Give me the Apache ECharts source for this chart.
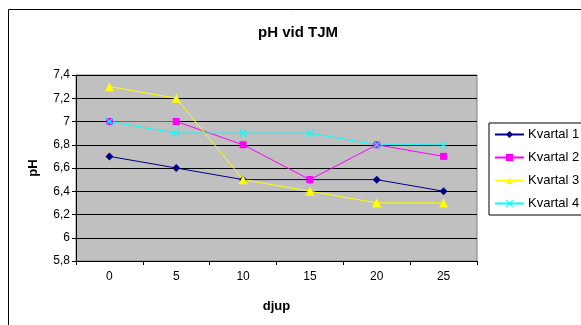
<!DOCTYPE html>
<html lang="sv">
<head>
<meta charset="UTF-8">
<title>pH vid TJM</title>
<script src="https://cdn.jsdelivr.net/npm/echarts@6/dist/echarts.min.js"></script>
<style>
  body { margin: 0; background: #fff; }
  #chart { width: 581px; height: 325px; }
</style>
</head>
<body>
<div id="chart"></div>
<script>
// djup (x categories)
var djup = ['0', '5', '10', '15', '20', '25'];
var kvartal1 = [6.7, 6.6, 6.5, 6.5, 6.5, 6.4];
var kvartal2 = [7.0, 7.0, 6.8, 6.5, 6.8, 6.7];
var kvartal3 = [7.3, 7.2, 6.5, 6.4, 6.3, 6.3];
var kvartal4 = [7.0, 6.9, 6.9, 6.9, 6.8, 6.8];
var seriesNames = ['Kvartal 1', 'Kvartal 2', 'Kvartal 3', 'Kvartal 4'];

var crossPath = 'path://M0,1L1,0L5,4L9,0L10,1L6,5L10,9L9,10L5,6L1,10L0,9L4,5Z';

function lineSeries(name, data, color, symbol, size) {
  return {
    name: name,
    type: 'line',
    data: data,
    symbol: symbol,
    symbolSize: size,
    showAllSymbol: true,
    lineStyle: { color: color, width: 1 },
    itemStyle: { color: color },
    emphasis: { disabled: true },
    animation: false
  };
}

var chart = echarts.init(document.getElementById('chart'));
chart.setOption({
  backgroundColor: '#fff',
  textStyle: { fontFamily: 'Liberation Sans, Arial, sans-serif' },
  graphic: [{
    type: 'rect',
    shape: { x: 8.5, y: 9.5, width: 600, height: 340 },
    style: { fill: null, stroke: '#000', lineWidth: 1 },
    z: -1
  }],
  title: {
    text: 'pH vid TJM',
    left: 258,
    top: 25,
    padding: 0,
    textStyle: { fontSize: 15, fontWeight: 'bold', color: '#000' }
  },
  legend: {
    data: seriesNames,
    orient: 'vertical',
    left: 489,
    top: 123,
    backgroundColor: '#fff',
    borderColor: '#000',
    borderWidth: 1,
    padding: [4, 10, 4, 5],
    itemWidth: 29,
    itemHeight: 9,
    itemGap: 8,
    textStyle: { fontSize: 13, color: '#000', lineHeight: 15, padding: [0, 0, 0, -1] }
  },
  grid: {
    left: 76, right: 104, top: 75, bottom: 64,
    show: true,
    backgroundColor: '#c0c0c0',
    borderColor: '#808080',
    borderWidth: 1
  },
  xAxis: {
    type: 'category',
    data: djup,
    boundaryGap: true,
    name: 'djup',
    nameLocation: 'middle',
    nameGap: 39,
    nameTextStyle: { fontSize: 13, fontWeight: 'bold', color: '#000' },
    axisLine: { lineStyle: { color: '#000' } },
    axisTick: { show: true, length: 4, inside: false, lineStyle: { color: '#000' } },
    axisLabel: { fontSize: 12, color: '#000', margin: 10 },
    splitLine: { show: false }
  },
  yAxis: {
    type: 'value',
    min: 5.8,
    max: 7.4,
    interval: 0.2,
    name: 'pH',
    nameLocation: 'middle',
    nameGap: 36,
    nameTextStyle: { fontSize: 13, fontWeight: 'bold', color: '#000' },
    axisLine: { show: true, lineStyle: { color: '#000' } },
    axisTick: { show: true, length: 4, lineStyle: { color: '#000' } },
    axisLabel: {
      fontSize: 12, color: '#000', margin: 6,
      formatter: function (v) { return String(Math.round(v * 10) / 10).replace('.', ','); }
    },
    splitLine: { show: true, lineStyle: { color: '#000', width: 1 } }
  },
  series: [
    lineSeries(seriesNames[0], kvartal1, '#000080', 'diamond', 8),
    lineSeries(seriesNames[1], kvartal2, '#ff00ff', 'rect', 7),
    lineSeries(seriesNames[2], kvartal3, '#ffff00', 'triangle', 9),
    lineSeries(seriesNames[3], kvartal4, '#00ffff', crossPath, 8)
  ]
});
</script>
</body>
</html>
